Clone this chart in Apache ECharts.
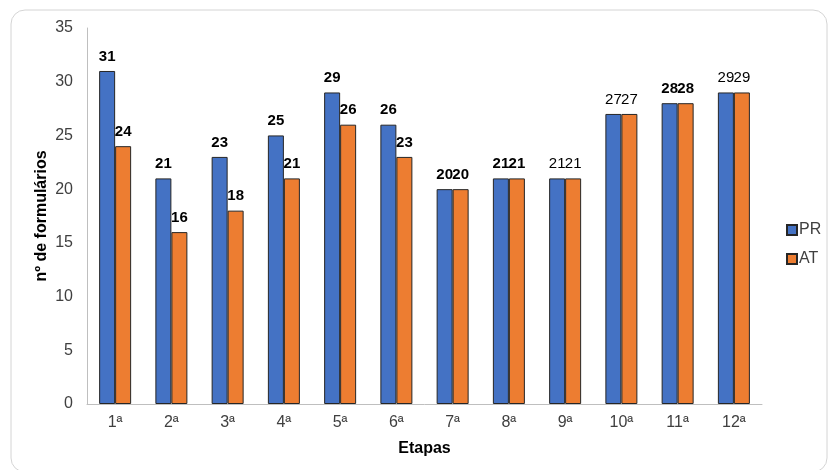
<!DOCTYPE html>
<html>
<head>
<meta charset="utf-8">
<script src="https://cdn.jsdelivr.net/npm/echarts@6/dist/echarts.min.js"></script>
<style>
  html, body { margin: 0; padding: 0; background: #fff; }
  #chart { width: 830px; height: 470px; }
</style>
</head>
<body>
<div id="chart"></div>
<script>
// Stages and form counts per stage
const etapas = ['1ª', '2ª', '3ª', '4ª', '5ª', '6ª', '7ª', '8ª', '9ª', '10ª', '11ª', '12ª'];
const valoresPR = [31, 21, 23, 25, 29, 26, 20, 21, 21, 27, 28, 29];
const valoresAT = [24, 16, 18, 21, 26, 23, 20, 21, 21, 27, 28, 29];
// Which stages have bold value labels
const rotuloNegrito = [true, true, true, true, true, true, true, true, false, false, true, false];
const yTicks = [0, 5, 10, 15, 20, 25, 30, 35];

const FONT = '"Liberation Sans", Arial, sans-serif';

function serieDados(valores) {
  return valores.map((v, i) => ({
    value: v,
    label: { fontWeight: rotuloNegrito[i] ? 'bold' : 'normal' }
  }));
}

const chart = echarts.init(document.getElementById('chart'), null, { renderer: 'canvas' });

const labelBase = {
  show: true,
  position: 'top',
  distance: 7,
  color: '#000',
  fontSize: 15,
  fontFamily: FONT
};

chart.setOption({
  animation: false,
  textStyle: { fontFamily: FONT },
  graphic: [{
    type: 'rect',
    shape: { x: 11, y: 10, width: 816, height: 462, r: 14 },
    style: { fill: 'none', stroke: '#d4d4d4', lineWidth: 1 },
    silent: true,
    z: -10
  }],
  grid: { left: 87, right: 68, top: 28, bottom: 66, containLabel: false },
  legend: {
    orient: 'vertical',
    left: 781,
    top: 217,
    itemWidth: 10,
    itemHeight: 10,
    itemGap: 13,
    icon: 'rect',
    textStyle: { fontSize: 16, color: '#404040', fontFamily: FONT, padding: [0, 0, 0, -3] },
    data: ['PR', 'AT']
  },
  xAxis: {
    type: 'category',
    data: etapas,
    name: 'Etapas',
    nameLocation: 'middle',
    nameGap: 37,
    nameMoveOverlap: false,
    nameTextStyle: { fontWeight: 'bold', fontSize: 16, color: '#000', fontFamily: FONT },
    axisLine: { lineStyle: { color: '#bfbfbf', width: 1 } },
    axisTick: { show: false },
    axisLabel: { fontSize: 16, color: '#404040', margin: 11, fontFamily: FONT }
  },
  yAxis: {
    type: 'value',
    min: yTicks[0],
    max: yTicks[yTicks.length - 1],
    interval: 5,
    name: 'nº de formulários',
    nameLocation: 'middle',
    nameGap: 37,
    nameMoveOverlap: false,
    nameTextStyle: { fontWeight: 'bold', fontSize: 16, color: '#000', fontFamily: FONT },
    axisLine: { show: true, lineStyle: { color: '#bfbfbf', width: 1 } },
    axisTick: { show: false },
    splitLine: { show: false },
    axisLabel: { fontSize: 16, color: '#404040', margin: 14, fontFamily: FONT }
  },
  series: [
    {
      name: 'PR',
      type: 'bar',
      data: serieDados(valoresPR),
      barWidth: 16,
      barGap: '0%',
      itemStyle: { color: '#4472C4', borderColor: '#262626', borderWidth: 1 },
      label: labelBase
    },
    {
      name: 'AT',
      type: 'bar',
      data: serieDados(valoresAT),
      barWidth: 16,
      barGap: '0%',
      itemStyle: { color: '#ED7D31', borderColor: '#262626', borderWidth: 1 },
      label: labelBase
    }
  ]
});
</script>
</body>
</html>
